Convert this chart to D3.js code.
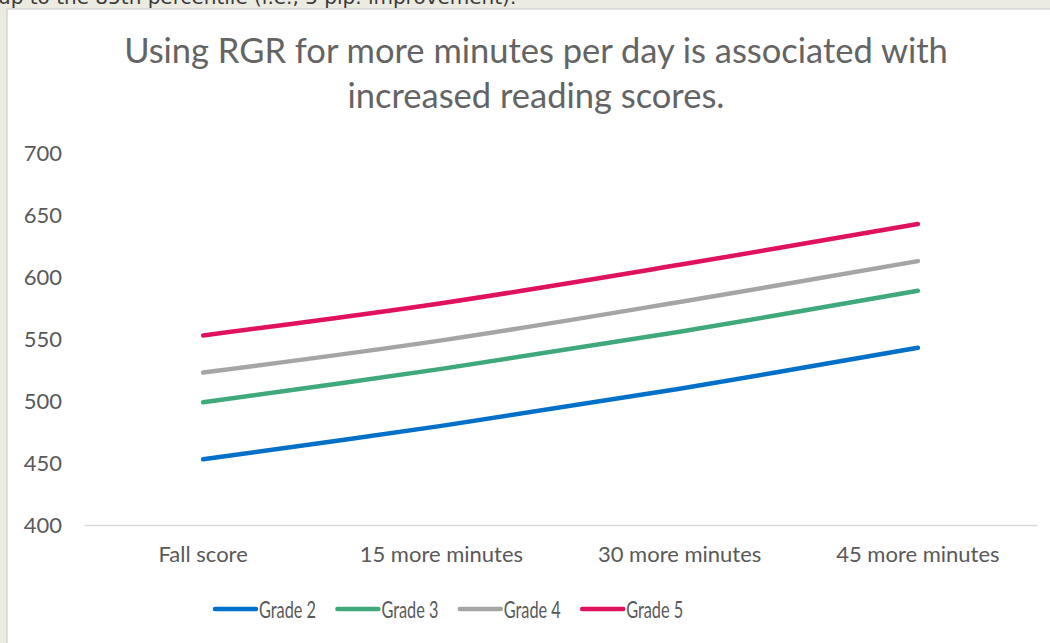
<!DOCTYPE html>
<html lang="en">
<head>
  <meta charset="utf-8">
  <title>RGR minutes and reading scores</title>
  <script src="https://d3js.org/d3.v7.min.js"></script>
  <style>
    html, body { margin: 0; padding: 0; background: #ecebe2; overflow: hidden; }
  </style>
</head>
<body>
<script>
  // chart data
  var categories = ["Fall score", "15 more minutes", "30 more minutes", "45 more minutes"];
  var seriesNames = ["Grade 2", "Grade 3", "Grade 4", "Grade 5"];
  var grade2 = [453, 480, 510, 543];
  var grade3 = [499, 526, 556, 589];
  var grade4 = [523, 549, 580, 613];
  var grade5 = [553, 579, 610, 643];
  var yTicks = [400, 450, 500, 550, 600, 650, 700];
  var colors = ["#0070c8", "#3fa97c", "#a5a5a5", "#e0115f"];

  var allSeries = [grade2, grade3, grade4, grade5];

  var W = 1050, H = 643;
  var svg = d3.select("body").append("svg")
      .attr("width", W)
      .attr("height", H);

  // cut-off sentence above the chart (only its lower half shows)
  svg.append("text")
      .attr("x", -2)
      .attr("y", 4)
      .attr("font-family", "DejaVu Sans")
      .attr("font-size", 20)
      .attr("fill", "#3a3a3a")
      .text("up to the 85th percentile (i.e., 5 pip. improvement).");

  // white chart box with light border
  svg.append("rect")
      .attr("x", 7)
      .attr("y", 9)
      .attr("width", W + 20)
      .attr("height", H + 20)
      .attr("fill", "#ffffff")
      .attr("stroke", "#d6d6d6")
      .attr("stroke-width", 1.5);

  var font = "Lato, 'Open Sans', sans-serif";
  var grey = "#595959";

  // title, two lines, sized to the reference width
  var title1 = svg.append("text")
      .attr("x", 536).attr("y", 63)
      .attr("text-anchor", "middle")
      .attr("font-family", font)
      .attr("font-size", 30)
      .attr("fill", "#646464")
      .text("Using RGR for more minutes per day is associated with");
  var fs = 30 * 824 / title1.node().getComputedTextLength();
  title1.attr("font-size", fs);
  svg.append("text")
      .attr("x", 536).attr("y", 108)
      .attr("text-anchor", "middle")
      .attr("font-family", font)
      .attr("font-size", fs)
      .attr("fill", "#646464")
      .text("increased reading scores.");

  var x = d3.scaleBand()
      .domain(categories)
      .range([84, 1037]);

  var y = d3.scaleLinear()
      .domain([400, 700])
      .range([525, 153.3]);

  // y axis labels only
  var yAxis = d3.axisLeft(y).tickValues(yTicks).tickSize(0).tickPadding(0);
  var gy = svg.append("g")
      .attr("transform", "translate(62,0)")
      .call(yAxis);
  gy.select(".domain").remove();
  gy.selectAll("text")
      .attr("font-family", font)
      .attr("font-size", 22)
      .attr("fill", grey);

  // x axis: light line and category labels
  var xAxis = d3.axisBottom(x).tickSize(0).tickPadding(21);
  var gx = svg.append("g")
      .attr("transform", "translate(0,525)")
      .call(xAxis);
  gx.select(".domain")
      .attr("stroke", "#d9d9d9")
      .attr("stroke-width", 1.5);
  gx.selectAll("text")
      .attr("font-family", font)
      .attr("font-size", 22)
      .attr("fill", grey);

  // smoothed lines like Excel
  var line = d3.line()
      .x(function(d, i) { return x(categories[i]) + x.bandwidth() / 2; })
      .y(function(d) { return y(d); })
      .curve(d3.curveCardinal.tension(0));

  svg.selectAll(".series")
      .data(allSeries)
      .enter()
      .append("path")
      .attr("class", "series")
      .attr("d", line)
      .attr("fill", "none")
      .attr("stroke", function(d, i) { return colors[i]; })
      .attr("stroke-width", 4.5)
      .attr("stroke-linecap", "round");

  // legend
  var legend = svg.selectAll(".legend")
      .data(seriesNames)
      .enter()
      .append("g")
      .attr("class", "legend")
      .attr("transform", function(d, i) { return "translate(" + (215 + i * 122.4) + ",609)"; });

  legend.append("line")
      .attr("x1", 0).attr("x2", 41)
      .attr("y1", 0).attr("y2", 0)
      .attr("stroke", function(d, i) { return colors[i]; })
      .attr("stroke-width", 4.5)
      .attr("stroke-linecap", "round");

  legend.append("text")
      .attr("x", 44)
      .attr("y", 1)
      .attr("dy", "0.35em")
      .attr("font-family", font)
      .attr("font-size", 24)
      .attr("fill", grey)
      .attr("textLength", 57)
      .attr("lengthAdjust", "spacingAndGlyphs")
      .text(function(d) { return d; });
</script>
</body>
</html>
